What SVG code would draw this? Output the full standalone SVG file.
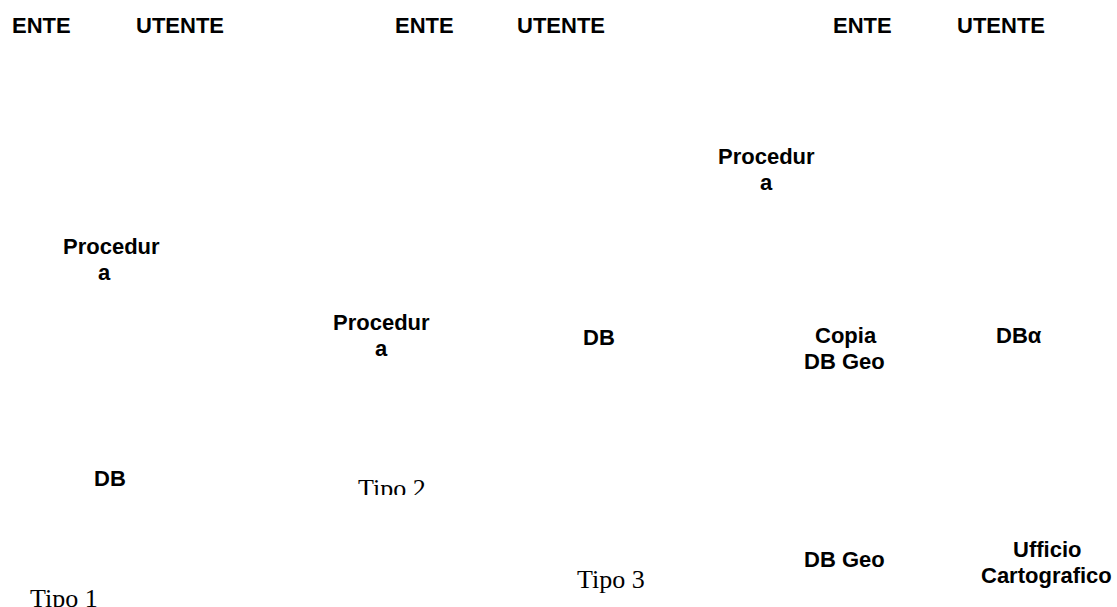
<svg xmlns="http://www.w3.org/2000/svg" width="1117" height="607" viewBox="0 0 1117 607">
  <style>
    .lbl { font-family: "Liberation Sans", Arial, sans-serif; font-weight: bold; font-size: 22px; fill: #000; }
    .tipo { font-family: "Liberation Serif", "Times New Roman", serif; font-size: 26px; fill: #000; }
  </style>
  <defs>
    <clipPath id="clip-tipo2"><rect x="340" y="460" width="120" height="35"/></clipPath>
  </defs>
  <rect width="1117" height="607" fill="#fff"/>

  <!-- column headers -->
  <g id="header-ente-1"><text class="lbl" x="12" y="33">ENTE</text></g>
  <g id="header-utente-1"><text class="lbl" x="136" y="33">UTENTE</text></g>
  <g id="header-ente-2"><text class="lbl" x="395" y="33">ENTE</text></g>
  <g id="header-utente-2"><text class="lbl" x="517" y="33">UTENTE</text></g>
  <g id="header-ente-3"><text class="lbl" x="833" y="33">ENTE</text></g>
  <g id="header-utente-3"><text class="lbl" x="957" y="33">UTENTE</text></g>

  <!-- type 1 -->
  <g id="procedura-1">
    <text class="lbl" x="63" y="254">Procedur</text>
    <text class="lbl" x="98" y="280">a</text>
  </g>
  <g id="db-1"><text class="lbl" x="94" y="486">DB</text></g>
  <g id="tipo-1"><text class="tipo" x="30" y="607">Tipo 1</text></g>

  <!-- type 2 -->
  <g id="procedura-2">
    <text class="lbl" x="333" y="330">Procedur</text>
    <text class="lbl" x="375" y="356">a</text>
  </g>
  <g id="db-2"><text class="lbl" x="583" y="345">DB</text></g>
  <g id="tipo-2" clip-path="url(#clip-tipo2)"><text class="tipo" x="358" y="497">Tipo 2</text></g>

  <!-- type 3 -->
  <g id="procedura-3">
    <text class="lbl" x="718" y="164">Procedur</text>
    <text class="lbl" x="760" y="190">a</text>
  </g>
  <g id="copia-db-geo">
    <text class="lbl" x="815" y="343">Copia</text>
    <text class="lbl" x="804" y="369">DB Geo</text>
  </g>
  <g id="db-alpha"><text class="lbl" x="996" y="343">DBα</text></g>
  <g id="db-geo"><text class="lbl" x="804" y="567">DB Geo</text></g>
  <g id="ufficio-cartografico">
    <text class="lbl" x="1013" y="557">Ufficio</text>
    <text class="lbl" x="981" y="583">Cartografico</text>
  </g>
  <g id="tipo-3"><text class="tipo" x="577" y="588">Tipo 3</text></g>
</svg>
